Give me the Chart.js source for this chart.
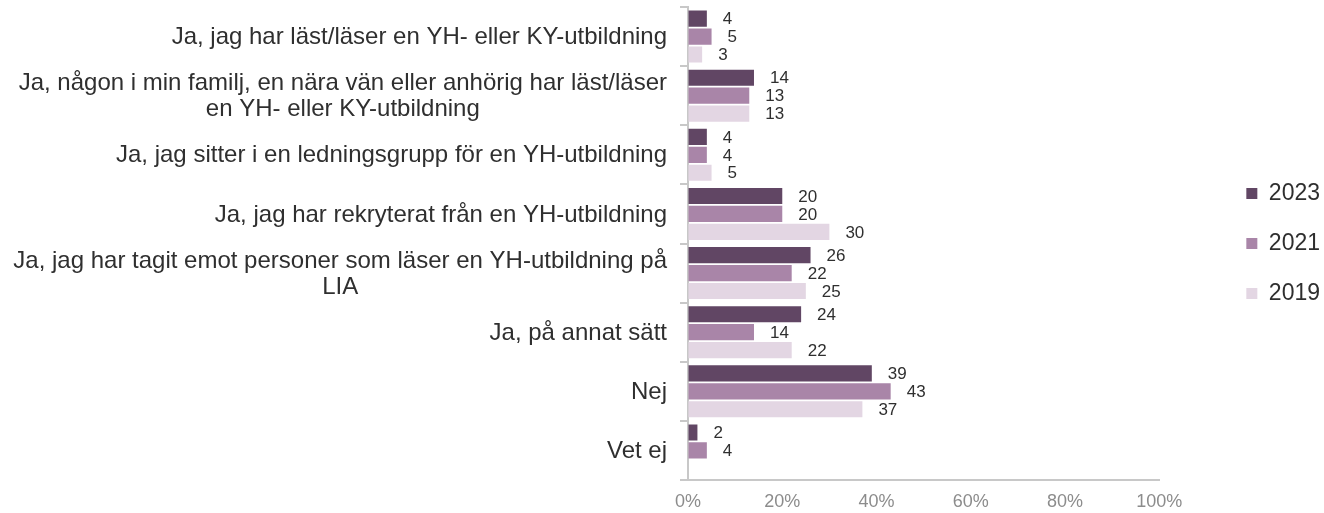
<!DOCTYPE html>
<html>
<head>
<meta charset="utf-8">
<script src="https://cdn.jsdelivr.net/npm/chart.js@4"></script>
<style>
  html, body { margin: 0; padding: 0; background: #fff; }
  #wrap { width: 1324px; height: 513px; }
</style>
</head>
<body>
<div id="wrap"><canvas id="canvasChart" width="1324" height="513"></canvas></div>
<script>
// answers (y axis)
var categories = [
    ["Ja, jag har läst/läser en YH- eller KY-utbildning"],
    ["Ja, någon i min familj, en nära vän eller anhörig har läst/läser", "en YH- eller KY-utbildning"],
    ["Ja, jag sitter i en ledningsgrupp för en YH-utbildning"],
    ["Ja, jag har rekryterat från en YH-utbildning"],
    ["Ja, jag har tagit emot personer som läser en YH-utbildning på", "LIA"],
    ["Ja, på annat sätt"],
    ["Nej"],
    ["Vet ej"]
];

// percent per year
var values2023 = [4, 14, 4, 20, 26, 24, 39, 2];
var values2021 = [5, 13, 4, 20, 22, 14, 43, 4];
var values2019 = [3, 13, 5, 30, 25, 22, 37, null];

var seriesNames = ["2023", "2021", "2019"];
var xTicks = [0, 20, 40, 60, 80, 100];

var go = {};
go.colors = ["#614664", "#a985a8", "#e3d6e3"];
go.textColor = "#2f2f2f";
go.font = "'Liberation Sans', Arial, sans-serif";

// value labels to the right of each bar
var valueLabels = {
    id: "valueLabels",
    afterDatasetsDraw: function (chart) {
        var ctx = chart.ctx;
        ctx.save();
        ctx.font = "17px " + go.font;
        ctx.fillStyle = go.textColor;
        ctx.textAlign = "left";
        ctx.textBaseline = "middle";
        chart.data.datasets.forEach(function (ds, i) {
            var meta = chart.getDatasetMeta(i);
            meta.data.forEach(function (bar, j) {
                if (ds.data[j] == null) return;
                ctx.fillText(ds.data[j], bar.x + 16, bar.y + 1);
            });
        });
        ctx.restore();
    }
};

// category labels: block right aligned, lines centered inside the block
var categoryLabels = {
    id: "categoryLabels",
    afterDraw: function (chart) {
        var ctx = chart.ctx;
        var yScale = chart.scales.y;
        var right = yScale.right - 21;
        var lineH = 26;
        ctx.save();
        ctx.font = "24px " + go.font;
        ctx.fillStyle = go.textColor;
        ctx.textAlign = "center";
        ctx.textBaseline = "middle";
        categories.forEach(function (lines, i) {
            var w = 0;
            lines.forEach(function (l) { w = Math.max(w, ctx.measureText(l).width); });
            var cx = right - w / 2;
            var cy = yScale.getPixelForValue(i) + 1;
            var y0 = cy - (lines.length - 1) * lineH / 2;
            lines.forEach(function (l, k) {
                ctx.fillText(l, cx, y0 + k * lineH);
            });
        });
        ctx.restore();
    }
};

var config = {
    type: "bar",
    data: {
        labels: categories.map(function (c) { return c.join(" "); }),
        datasets: [
            { label: seriesNames[0], data: values2023, backgroundColor: go.colors[0] },
            { label: seriesNames[1], data: values2021, backgroundColor: go.colors[1] },
            { label: seriesNames[2], data: values2019, backgroundColor: go.colors[2] }
        ]
    },
    options: {
        indexAxis: "y",
        responsive: false,
        animation: false,
        datasets: {
            bar: {
                categoryPercentage: 0.91,
                barPercentage: 0.9,
                borderWidth: 0
            }
        },
        layout: { padding: { top: 7, right: -6, bottom: 0, left: 0 } },
        scales: {
            x: {
                min: 0,
                max: 100,
                afterBuildTicks: function (scale) {
                    scale.ticks = xTicks.map(function (v) { return { value: v }; });
                },
                afterFit: function (scale) { scale.height = 33; },
                grid: { display: true, drawOnChartArea: false, drawTicks: false },
                border: { display: true, color: "#c8c8c8", width: 2 },
                ticks: {
                    padding: 11,
                    color: "#8c8c8c",
                    font: { family: go.font, size: 18 },
                    callback: function (v) { return v + "%"; }
                }
            },
            y: {
                afterFit: function (scale) { scale.width = 688; },
                grid: {
                    offset: true,
                    drawOnChartArea: false,
                    drawTicks: true,
                    tickLength: 8,
                    color: "#c8c8c8",
                    lineWidth: 2
                },
                border: { display: true, color: "#c8c8c8", width: 2 },
                ticks: { display: false }
            },
            // empty gap between plot and legend
            yGap: {
                type: "category",
                axis: "y",
                position: "right",
                afterFit: function (scale) { scale.width = 60; },
                grid: { display: false },
                border: { display: false },
                ticks: { display: false }
            }
        },
        plugins: {
            legend: {
                position: "right",
                fullSize: false,
                labels: {
                    boxWidth: 11,
                    boxHeight: 11,
                    padding: 27,
                    color: go.textColor,
                    font: { family: go.font, size: 23 }
                }
            },
            tooltip: { enabled: false }
        }
    },
    plugins: [valueLabels, categoryLabels]
};

go.chart = new Chart(document.getElementById("canvasChart").getContext("2d"), config);
</script>
</body>
</html>
